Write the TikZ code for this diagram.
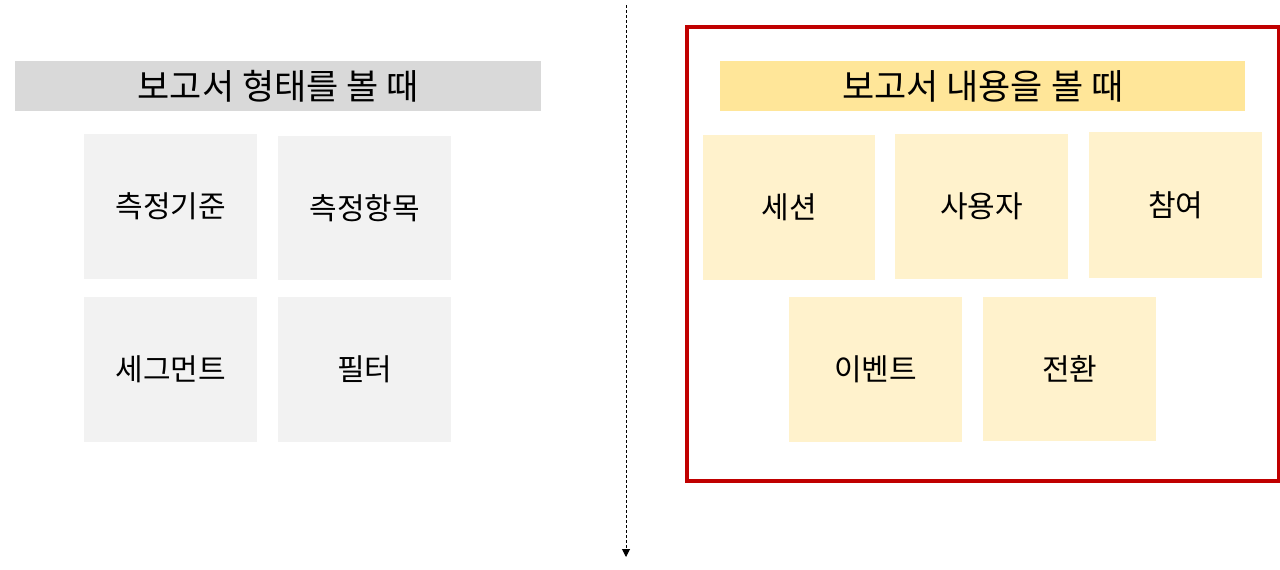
\documentclass[tikz,border=0pt]{standalone}
\usepackage{fontspec}
\setmainfont{Noto Sans CJK KR}
\usetikzlibrary{arrows.meta}
\definecolor{titlegray}{HTML}{D9D9D9}
\definecolor{boxgray}{HTML}{F2F2F2}
\definecolor{titleyellow}{HTML}{FFE699}
\definecolor{boxyellow}{HTML}{FFF2CC}
\definecolor{framered}{HTML}{C00000}
\tikzset{
  card/.style={inner sep=0pt, anchor=north west, font=\fontsize{30}{34}\selectfont},
  graycard/.style={card, fill=boxgray},
  yellowcard/.style={card, fill=boxyellow},
  titlebar/.style={inner sep=0pt, anchor=north west, font=\fontsize{35}{40}\selectfont},
}
\begin{document}
\begin{tikzpicture}[x=1pt,y=-1pt]
\useasboundingbox[fill=white] (0,0) rectangle (1280,570);
% left side
\node[titlebar, fill=titlegray, minimum width=526pt, minimum height=50pt] (lt) at (15,61) {보고서 형태를 볼 때};
\node[graycard, minimum width=173pt, minimum height=145pt] (l1) at (84,134) {측정기준};
\node[graycard, minimum width=173pt, minimum height=144pt] (l2) at (278,136) {측정항목};
\node[graycard, minimum width=173pt, minimum height=145pt] (l3) at (84,297) {세그먼트};
\node[graycard, minimum width=173pt, minimum height=145pt] (l4) at (278,297) {필터};
% divider
\coordinate (dtop) at (626,5);
\coordinate (dbot) at (626,557);
\draw[line width=1pt, dash pattern=on 3pt off 2pt, -{Triangle[length=8pt,width=8pt]}] (dtop) -- (dbot);
% right frame
\node[draw=framered, line width=3.5pt, inner sep=0pt, anchor=north west, minimum width=592pt, minimum height=454pt] (frame) at (685,25) {};
\node[titlebar, fill=titleyellow, minimum width=525pt, minimum height=50pt] (rt) at (720,61) {보고서 내용을 볼 때};
\node[yellowcard, minimum width=172pt, minimum height=145pt] (r1) at (703,135) {세션};
\node[yellowcard, minimum width=173pt, minimum height=145pt] (r2) at (895,134) {사용자};
\node[yellowcard, minimum width=173pt, minimum height=146pt] (r3) at (1089,132) {참여};
\node[yellowcard, minimum width=173pt, minimum height=145pt] (r4) at (789,297) {이벤트};
\node[yellowcard, minimum width=173pt, minimum height=144pt] (r5) at (983,297) {전환};
\end{tikzpicture}
\end{document}
